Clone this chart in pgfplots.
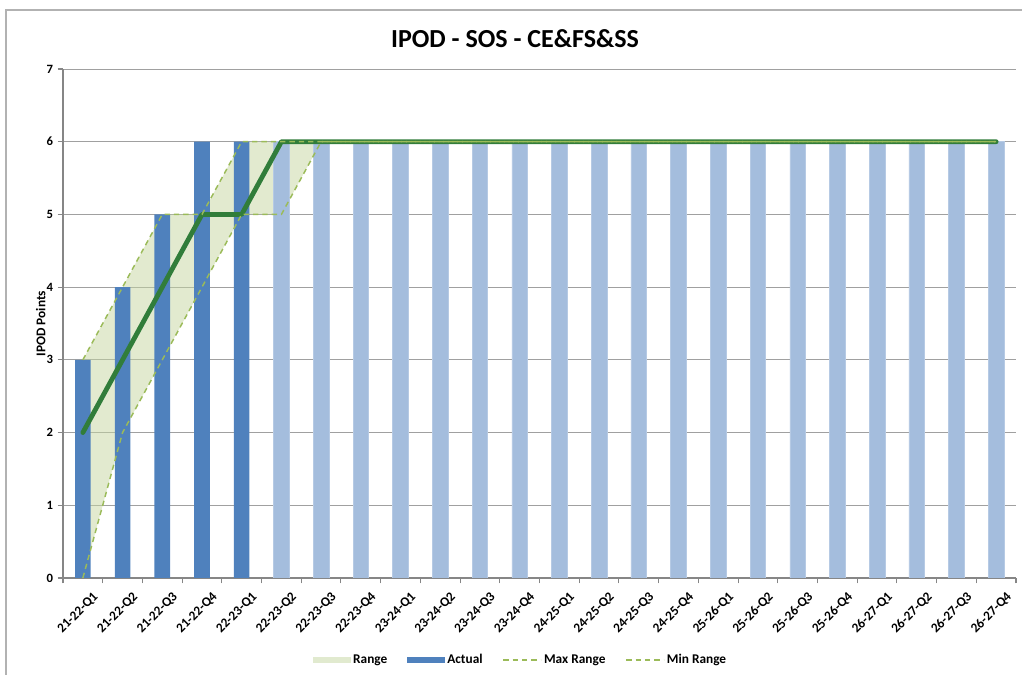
\documentclass[border=0pt]{standalone}
\usepackage{fontspec}
\setmainfont{Carlito}
\usepackage{pgfplots}
\pgfplotsset{compat=1.18}
\usepackage{pgfplotstable}
\usepgfplotslibrary{fillbetween}

\definecolor{actualblue}{RGB}{79,129,189}
\definecolor{planblue}{RGB}{164,189,221}
\definecolor{rangefill}{RGB}{197,214,160}
\definecolor{rangeline}{RGB}{155,187,89}
\definecolor{trendgreen}{RGB}{49,125,58}
\definecolor{gridgray}{RGB}{160,160,160}
\definecolor{axisgray}{RGB}{134,134,134}

% x = quarter index, nan = no value
\pgfplotstableread{
x actual plan max min line
0  3   nan 3 0 2
1  4   nan 4 2 3
2  5   nan 5 3 4
3  6   nan 5 4 5
4  6   nan 6 5 5
5  nan 6   6 5 6
6  nan 6   6 6 6
7  nan 6   6 6 6
8  nan 6   6 6 6
9  nan 6   6 6 6
10 nan 6   6 6 6
11 nan 6   6 6 6
12 nan 6   6 6 6
13 nan 6   6 6 6
14 nan 6   6 6 6
15 nan 6   6 6 6
16 nan 6   6 6 6
17 nan 6   6 6 6
18 nan 6   6 6 6
19 nan 6   6 6 6
20 nan 6   6 6 6
21 nan 6   6 6 6
22 nan 6   6 6 6
23 nan 6   6 6 6
}\ipod

\begin{document}
\begin{tikzpicture}
\draw[gray!60, line width=0.8pt] (4.5pt,-20pt) |- (800pt,498.75pt);
\node[font=\bfseries\fontsize{19.5}{22}\selectfont] at (386.25pt,477.5pt) {IPOD - SOS - CE\&FS\&SS};
\begin{axis}[
    at={(47.25pt,72.75pt)}, anchor=south west,
    scale only axis, width=714.75pt, height=381.75pt,
    xmin=-0.5, xmax=23.5, ymin=0, ymax=7,
    axis x line=bottom, axis y line=left,
    axis line style={-, axisgray, line width=0.8pt},
    ymajorgrids, grid style={gridgray, line width=0.7pt},
    ytick={0,...,7},
    xtick={0,...,23},
    xticklabels={21-22-Q1,21-22-Q2,21-22-Q3,21-22-Q4,22-23-Q1,22-23-Q2,22-23-Q3,22-23-Q4,
        23-24-Q1,23-24-Q2,23-24-Q3,23-24-Q4,24-25-Q1,24-25-Q2,24-25-Q3,24-25-Q4,
        25-26-Q1,25-26-Q2,25-26-Q3,25-26-Q4,26-27-Q1,26-27-Q2,26-27-Q3,26-27-Q4},
    minor xtick={-0.5,0.5,...,23.5},
    major x tick style={draw=none},
    minor x tick style={axisgray, line width=0.8pt},
    y tick style={axisgray, line width=0.8pt},
    tick align=outside, major tick length=4pt, minor tick length=4pt,
    x tick label style={rotate=45, anchor=north east, inner sep=1pt, yshift=-8pt, xshift=2pt,
        font=\bfseries\fontsize{10}{12}\selectfont},
    y tick label style={font=\bfseries\fontsize{9.5}{11}\selectfont},
    /pgf/number format/assume math mode=true,
    ylabel={IPOD Points},
    ylabel style={font=\bfseries\fontsize{10}{12}\selectfont, yshift=-6pt},
    legend style={at={(0.4806,-0.161)}, anchor=center, draw=none,
        legend columns=-1, font=\bfseries\fontsize{10}{12}\selectfont,
        /tikz/every even column/.append style={column sep=13pt}},
]
\addplot[draw=none, name path=maxp, forget plot] table[x=x, y=max] {\ipod};
\addplot[draw=none, name path=minp, forget plot] table[x=x, y=min] {\ipod};
\addplot[fill=rangefill, fill opacity=0.5, draw=none,
    legend image code/.code={\fill[rangefill, fill opacity=0.5] (0pt,-2.5pt) rectangle (28pt,2.5pt);}]
    fill between[of=maxp and minp];
\addlegendentry{Range}
\addplot[ybar, bar width=11.7pt, bar shift=0pt, fill=actualblue, draw=none,
    legend image code/.code={\fill[actualblue] (0pt,-2.5pt) rectangle (28pt,2.5pt);}]
    table[x=x, y=actual] {\ipod};
\addlegendentry{Actual}
\addplot[ybar, bar width=11.7pt, bar shift=0pt, fill=planblue, draw=planblue!80!white,
    line width=0.4pt, forget plot]
    table[x=x, y=plan] {\ipod};
\addplot[trendgreen, line width=3.6pt, line cap=round, line join=round, forget plot]
    table[x=x, y=line] {\ipod};
\addplot[rangeline, line width=1.1pt, dash pattern=on 4pt off 3pt,
    legend image code/.code={\draw[rangeline, line width=1.1pt, dash pattern=on 4pt off 3pt] (0pt,0pt) -- (28pt,0pt);}]
    table[x=x, y=max] {\ipod};
\addlegendentry{Max Range}
\addplot[rangeline, line width=1.1pt, dash pattern=on 4pt off 3pt,
    legend image code/.code={\draw[rangeline, line width=1.1pt, dash pattern=on 4pt off 3pt] (0pt,0pt) -- (28pt,0pt);}]
    table[x=x, y=min] {\ipod};
\addlegendentry{Min Range}
\end{axis}
\pgfresetboundingbox
\useasboundingbox (0,0) rectangle (766.5pt,506.25pt);
\end{tikzpicture}
\end{document}
